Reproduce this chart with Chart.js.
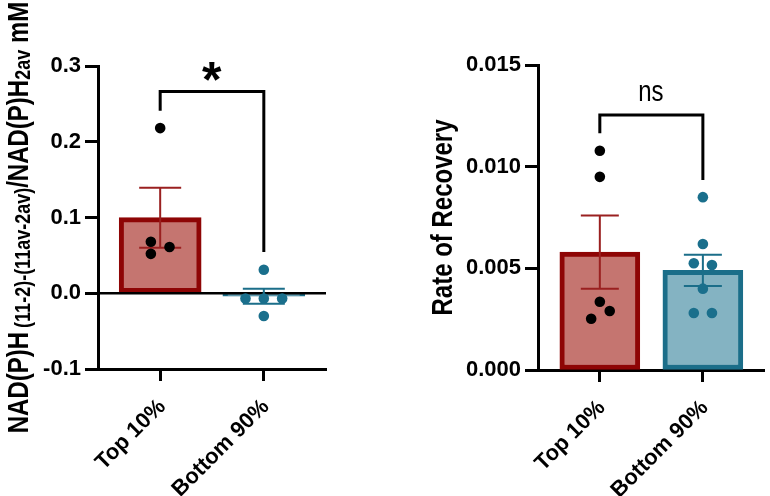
<!DOCTYPE html>
<html><head><meta charset="utf-8">
<script src="https://cdn.jsdelivr.net/npm/chart.js@4"></script>
<style>
html,body{margin:0;padding:0;background:#fff;}
#wrap{position:relative;width:770px;height:496px;overflow:hidden;background:#fff;}
#c1{position:absolute;left:0;top:0;}
#c2{position:absolute;left:400px;top:0;}
</style></head><body>
<div id="wrap"><canvas id="c1" width="340" height="496"></canvas><canvas id="c2" width="370" height="496"></canvas></div>
<script>
const categories = ['Top 10%', 'Bottom 90%'];

// Left panel: NAD(P)H change
const nadMean = [0.0998, -0.004];
const nadSem = [0.0396, 0.0098];
const nadTopPoints = [0.218, 0.068, 0.052, 0.061];
const nadTopJitter = [0, -0.09, -0.09, 0.09];
const nadBottomPoints = [0.031, -0.007, -0.007, -0.007, -0.030];
const nadBottomJitter = [0, -0.177, 0, 0.177, 0];
const nadTicks = [-0.1, 0.0, 0.1, 0.2, 0.3];
const nadBracket = [0.2408, 0.2665, 0.0546];   // left leg end, bar, right leg end
const nadSig = '*';
const nadSigY = 0.2923;

// Right panel: Rate of Recovery
const rateMean = [0.0058, 0.0049];
const rateSem = [0.0018, 0.00077];
const rateTopPoints = [0.01078, 0.0095, 0.00336, 0.0029, 0.00252];
const rateTopJitter = [0, 0, 0, 0.096, -0.084];
const rateBottomPoints = [0.0085, 0.0062, 0.00525, 0.00516, 0.004, 0.0028, 0.0028];
const rateBottomJitter = [0, 0, -0.088, 0.088, 0, -0.088, 0.088];
const rateTicks = [0, 0.005, 0.010, 0.015];
const rateBracket = [0.01164, 0.01254, 0.00934];
const rateSig = 'ns';
const rateSigY = 0.01362;

const FONT = "'Liberation Sans', Arial, sans-serif";
const barFill = ['#C57570', '#84B3C2'];
const barEdge = ['#8E0505', '#1B6E89'];
const errColor = ['#9A2020', '#1B6E89'];
const dotColor = ['#000000', '#1A6F8C'];

function buildChart(canvas, cfg) {
  const plugin = {
    id: 'extras',
    afterDatasetDraw(chart, args) {
      if (args.index !== 0) return;
      const ctx = chart.ctx, xs = chart.scales.x, ys = chart.scales.y, ca = chart.chartArea;
      ctx.save();
      if (ys.min < 0) {
        const y0 = ys.getPixelForValue(0);
        ctx.strokeStyle = '#000'; ctx.lineWidth = 2.5;
        ctx.beginPath(); ctx.moveTo(ca.left, y0); ctx.lineTo(ca.right, y0); ctx.stroke();
      }
      cfg.mean.forEach((m, i) => {
        const x = xs.getPixelForValue(i);
        const yt = ys.getPixelForValue(m + cfg.sem[i]);
        const yb = ys.getPixelForValue(m - cfg.sem[i]);
        const hw = cfg.capHalf;
        ctx.strokeStyle = errColor[i]; ctx.lineWidth = 2;
        ctx.beginPath();
        ctx.moveTo(x, yt); ctx.lineTo(x, yb);
        ctx.moveTo(x - hw, yt); ctx.lineTo(x + hw, yt);
        ctx.moveTo(x - hw, yb); ctx.lineTo(x + hw, yb);
        ctx.stroke();
      });
      ctx.restore();
    },
    afterDraw(chart) {
      const ctx = chart.ctx, xs = chart.scales.x, ys = chart.scales.y;
      ctx.save();
      const x0 = xs.getPixelForValue(0), x1 = xs.getPixelForValue(1);
      ctx.strokeStyle = '#000'; ctx.lineWidth = 3; ctx.lineJoin = 'miter';
      ctx.beginPath();
      ctx.moveTo(x0, ys.getPixelForValue(cfg.bracket[0]));
      ctx.lineTo(x0, ys.getPixelForValue(cfg.bracket[1]));
      ctx.lineTo(x1, ys.getPixelForValue(cfg.bracket[1]));
      ctx.lineTo(x1, ys.getPixelForValue(cfg.bracket[2]));
      ctx.stroke();
      ctx.font = cfg.sigFont;
      ctx.fillStyle = '#000';
      ctx.textAlign = 'left'; ctx.textBaseline = 'alphabetic';
      const m = ctx.measureText(cfg.sig);
      const gw = m.actualBoundingBoxRight + m.actualBoundingBoxLeft;
      const gh = m.actualBoundingBoxAscent + m.actualBoundingBoxDescent;
      const cx = (x0 + x1) / 2, cy = ys.getPixelForValue(cfg.sigY);
      ctx.translate(cx, cy);
      ctx.scale(1, cfg.sigStretch);
      ctx.fillText(cfg.sig, -gw / 2 + m.actualBoundingBoxLeft, gh / 2 - m.actualBoundingBoxDescent);
      ctx.restore();
      ctx.save();
      const cyT = (chart.chartArea.top + chart.chartArea.bottom) / 2;
      let total = 0;
      cfg.title.forEach(s => { ctx.font = s.font; total += ctx.measureText(s.t).width + (s.gap || 0); });
      ctx.translate(cfg.titleX, cyT);
      ctx.rotate(-Math.PI / 2);
      ctx.scale(1, 1.2);
      ctx.fillStyle = '#000'; ctx.textAlign = 'left'; ctx.textBaseline = 'alphabetic';
      let pos = -total / 2;
      cfg.title.forEach(s => {
        ctx.font = s.font;
        pos += (s.gap || 0);
        ctx.fillText(s.t, pos, s.dy || 0);
        pos += ctx.measureText(s.t).width;
      });
      ctx.restore();
    }
  };

  const mk = (pts, jit, idx) => ({
    type: 'scatter',
    data: pts.map((v, i) => ({ x: idx + jit[i], y: v })),
    backgroundColor: dotColor[idx], borderWidth: 0,
    pointRadius: 5.3, pointHoverRadius: 5.3, order: 1, clip: false
  });

  return new Chart(canvas, {
    type: 'bar',
    data: {
      datasets: [
        {
          type: 'bar',
          data: cfg.mean.map((v, i) => ({ x: i, y: v })),
          backgroundColor: barFill, borderColor: barEdge,
          borderWidth: 5, borderSkipped: false, barThickness: cfg.barW,
          order: 3, clip: false
        },
        mk(cfg.top, cfg.topJ, 0),
        mk(cfg.bottom, cfg.bottomJ, 1)
      ]
    },
    options: {
      responsive: false, animation: false, devicePixelRatio: 1,
      layout: { padding: { top: cfg.padTop, right: cfg.padRight, left: 0, bottom: 0 } },
      plugins: { legend: { display: false }, tooltip: { enabled: false } },
      scales: {
        x: {
          type: 'linear', min: -0.6, max: 1.6, offset: false,
          afterBuildTicks: s => { s.ticks = categories.map((c, i) => ({ value: i })); },
          afterFit: s => { s.height = cfg.xHeight; },
          ticks: {
            autoSkip: false, minRotation: 45, maxRotation: 45, padding: 13, labelOffset: 2,
            color: '#000', font: { family: FONT, size: 22, weight: 'bold' },
            callback: v => categories[v]
          },
          grid: { drawOnChartArea: false, drawTicks: true, tickLength: 12, tickWidth: 3, tickColor: '#000', offset: false },
          border: { display: true, color: '#000', width: 3 }
        },
        y: {
          type: 'linear', min: cfg.yMin, max: cfg.yMax,
          afterBuildTicks: s => { s.ticks = cfg.ticks.map(v => ({ value: v })); },
          afterFit: s => { s.width = cfg.yWidth; },
          ticks: {
            padding: 4, color: '#000', font: { family: FONT, size: 22, weight: 'bold' },
            callback: v => Number(v).toFixed(cfg.dec)
          },
          grid: { drawOnChartArea: false, drawTicks: true, tickLength: 13, tickWidth: 3, tickColor: '#000' },
          border: { display: true, color: '#000', width: 3 }
        }
      }
    },
    plugins: [plugin]
  });
}

buildChart(document.getElementById('c1'), {
  mean: nadMean, sem: nadSem, top: nadTopPoints, topJ: nadTopJitter,
  bottom: nadBottomPoints, bottomJ: nadBottomJitter, ticks: nadTicks,
  yMin: -0.1, yMax: 0.3, dec: 1, bracket: nadBracket,
  sig: nadSig, sigY: nadSigY, sigFont: 'bold 50px ' + FONT, sigStretch: 1.0,
  barW: 82, capHalf: 21, padTop: 66, padRight: 14, xHeight: 127, yWidth: 98,
  titleX: 27.5,
  title: [
    { t: 'NAD(P)H', font: 'bold 24px ' + FONT },
    { t: '(11-2)-(11av-2av)', font: 'bold 18px ' + FONT, gap: 4, dy: 2 },
    { t: '/NAD(P)H', font: 'bold 24px ' + FONT },
    { t: '2av', font: 'bold 18px ' + FONT, dy: 2 },
    { t: ' mM', font: 'bold 24px ' + FONT }
  ]
});

buildChart(document.getElementById('c2'), {
  mean: rateMean, sem: rateSem, top: rateTopPoints, topJ: rateTopJitter,
  bottom: rateBottomPoints, bottomJ: rateBottomJitter, ticks: rateTicks,
  yMin: 0, yMax: 0.015, dec: 3, bracket: rateBracket,
  sig: rateSig, sigY: rateSigY, sigFont: '24px ' + FONT, sigStretch: 1.2,
  barW: 80, capHalf: 19, padTop: 65, padRight: 1, xHeight: 126, yWidth: 138,
  titleX: 52,
  title: [ { t: 'Rate of Recovery', font: 'bold 24px ' + FONT } ]
});
</script>
</body></html>
